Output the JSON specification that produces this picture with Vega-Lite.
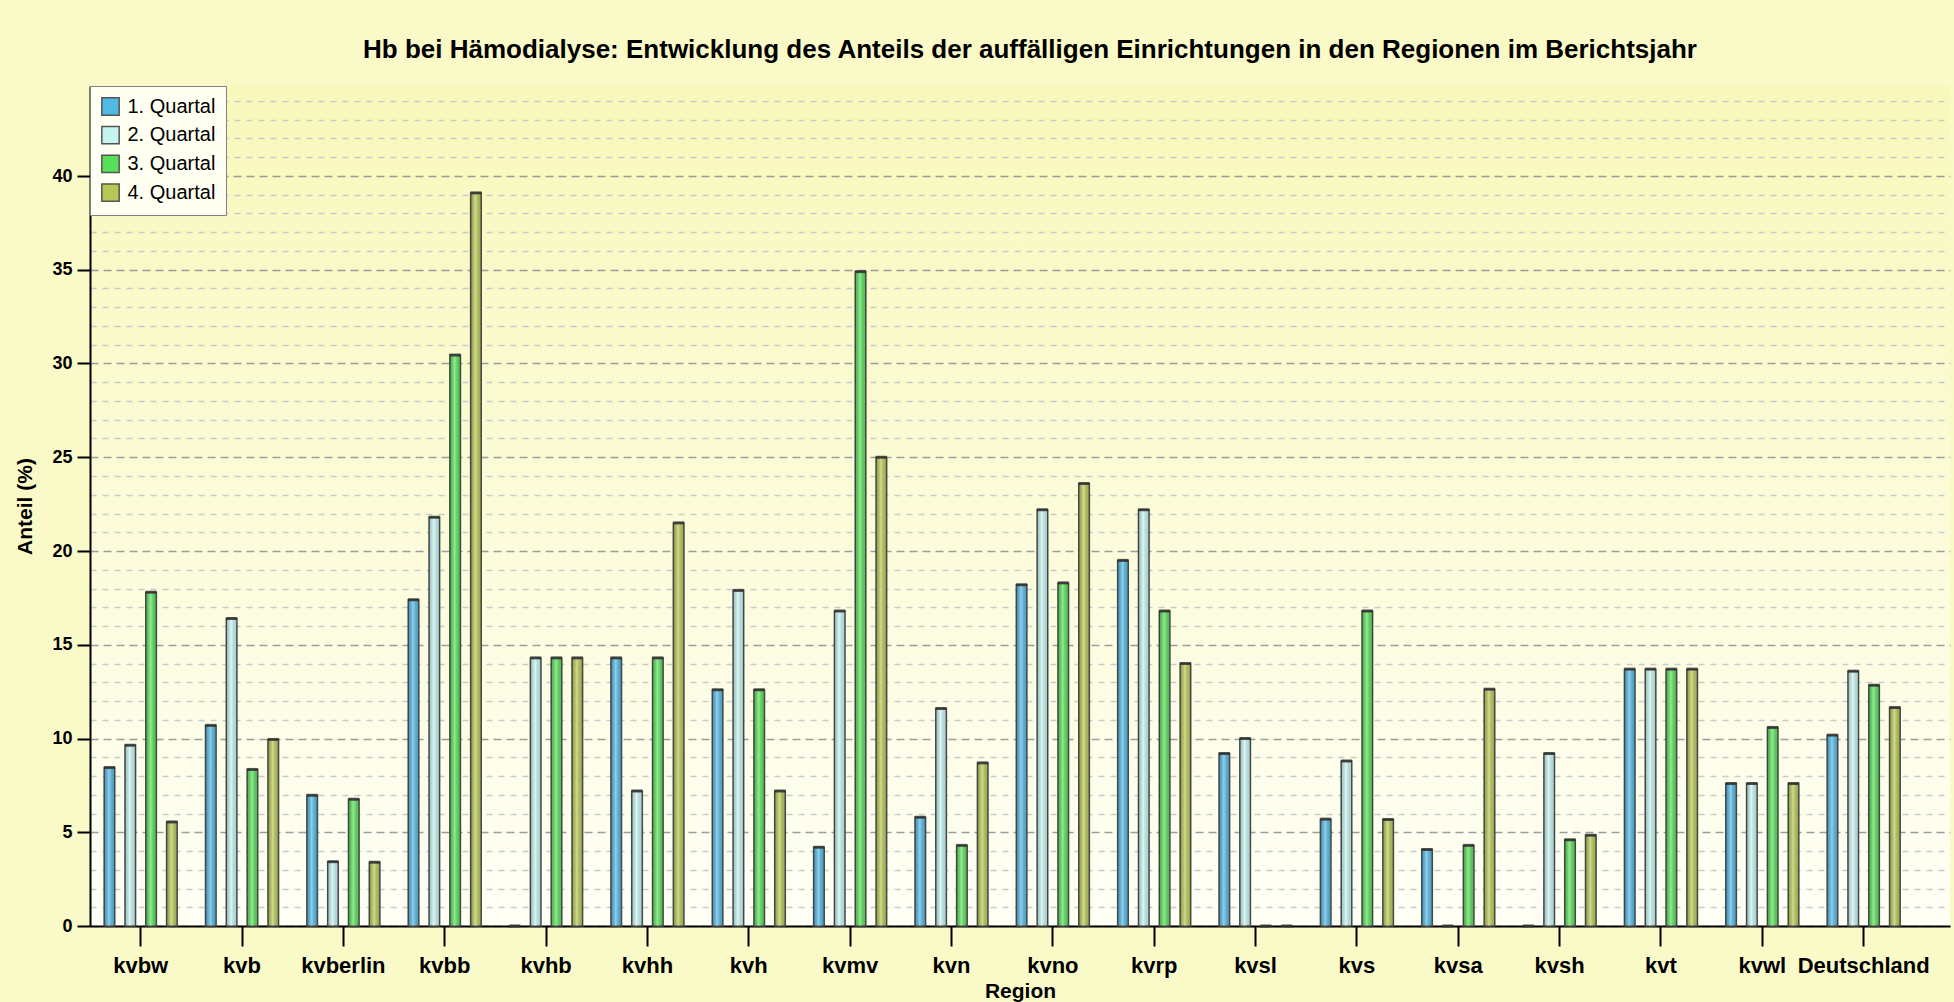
{
  "$schema": "https://vega.github.io/schema/vega-lite/v6.json",
  "width": 1860,
  "height": 840,
  "autosize": {"type": "none"},
  "padding": {"left": 90, "top": 86, "right": 4, "bottom": 76},
  "background": "#fafac8",
  "title": {
    "text": "Hb bei Hämodialyse: Entwicklung des Anteils der auffälligen Einrichtungen in den Regionen im Berichtsjahr",
    "font": "Liberation Sans",
    "fontSize": 26,
    "fontWeight": "bold",
    "color": "#000000",
    "anchor": "middle",
    "baseline": "alphabetic",
    "offset": 2,
    "dx": 10
  },
  "config": {
    "view": {
      "stroke": null,
      "fill": {
        "gradient": "linear",
        "x1": 0, "y1": 0, "x2": 0, "y2": 1,
        "stops": [
          {"offset": 0, "color": "#f8f8bb"},
          {"offset": 1, "color": "#fffff6"}
        ]
      }
    }
  },
  "data": {
    "values": [
      {"region": "kvbw", "quartal": "1. Quartal", "anteil": 8.45},
      {"region": "kvbw", "quartal": "2. Quartal", "anteil": 9.64},
      {"region": "kvbw", "quartal": "3. Quartal", "anteil": 17.8},
      {"region": "kvbw", "quartal": "4. Quartal", "anteil": 5.55},
      {"region": "kvb", "quartal": "1. Quartal", "anteil": 10.7},
      {"region": "kvb", "quartal": "2. Quartal", "anteil": 16.4},
      {"region": "kvb", "quartal": "3. Quartal", "anteil": 8.35},
      {"region": "kvb", "quartal": "4. Quartal", "anteil": 9.95},
      {"region": "kvberlin", "quartal": "1. Quartal", "anteil": 6.97},
      {"region": "kvberlin", "quartal": "2. Quartal", "anteil": 3.43},
      {"region": "kvberlin", "quartal": "3. Quartal", "anteil": 6.76},
      {"region": "kvberlin", "quartal": "4. Quartal", "anteil": 3.4},
      {"region": "kvbb", "quartal": "1. Quartal", "anteil": 17.4},
      {"region": "kvbb", "quartal": "2. Quartal", "anteil": 21.8},
      {"region": "kvbb", "quartal": "3. Quartal", "anteil": 30.45},
      {"region": "kvbb", "quartal": "4. Quartal", "anteil": 39.1},
      {"region": "kvhb", "quartal": "1. Quartal", "anteil": 0},
      {"region": "kvhb", "quartal": "2. Quartal", "anteil": 14.3},
      {"region": "kvhb", "quartal": "3. Quartal", "anteil": 14.3},
      {"region": "kvhb", "quartal": "4. Quartal", "anteil": 14.3},
      {"region": "kvhh", "quartal": "1. Quartal", "anteil": 14.3},
      {"region": "kvhh", "quartal": "2. Quartal", "anteil": 7.2},
      {"region": "kvhh", "quartal": "3. Quartal", "anteil": 14.3},
      {"region": "kvhh", "quartal": "4. Quartal", "anteil": 21.5},
      {"region": "kvh", "quartal": "1. Quartal", "anteil": 12.6},
      {"region": "kvh", "quartal": "2. Quartal", "anteil": 17.9},
      {"region": "kvh", "quartal": "3. Quartal", "anteil": 12.6},
      {"region": "kvh", "quartal": "4. Quartal", "anteil": 7.2},
      {"region": "kvmv", "quartal": "1. Quartal", "anteil": 4.2},
      {"region": "kvmv", "quartal": "2. Quartal", "anteil": 16.8},
      {"region": "kvmv", "quartal": "3. Quartal", "anteil": 34.9},
      {"region": "kvmv", "quartal": "4. Quartal", "anteil": 25.0},
      {"region": "kvn", "quartal": "1. Quartal", "anteil": 5.8},
      {"region": "kvn", "quartal": "2. Quartal", "anteil": 11.6},
      {"region": "kvn", "quartal": "3. Quartal", "anteil": 4.3},
      {"region": "kvn", "quartal": "4. Quartal", "anteil": 8.7},
      {"region": "kvno", "quartal": "1. Quartal", "anteil": 18.2},
      {"region": "kvno", "quartal": "2. Quartal", "anteil": 22.2},
      {"region": "kvno", "quartal": "3. Quartal", "anteil": 18.3},
      {"region": "kvno", "quartal": "4. Quartal", "anteil": 23.6},
      {"region": "kvrp", "quartal": "1. Quartal", "anteil": 19.5},
      {"region": "kvrp", "quartal": "2. Quartal", "anteil": 22.2},
      {"region": "kvrp", "quartal": "3. Quartal", "anteil": 16.8},
      {"region": "kvrp", "quartal": "4. Quartal", "anteil": 14.0},
      {"region": "kvsl", "quartal": "1. Quartal", "anteil": 9.2},
      {"region": "kvsl", "quartal": "2. Quartal", "anteil": 10.0},
      {"region": "kvsl", "quartal": "3. Quartal", "anteil": 0},
      {"region": "kvsl", "quartal": "4. Quartal", "anteil": 0},
      {"region": "kvs", "quartal": "1. Quartal", "anteil": 5.7},
      {"region": "kvs", "quartal": "2. Quartal", "anteil": 8.8},
      {"region": "kvs", "quartal": "3. Quartal", "anteil": 16.8},
      {"region": "kvs", "quartal": "4. Quartal", "anteil": 5.68},
      {"region": "kvsa", "quartal": "1. Quartal", "anteil": 4.08},
      {"region": "kvsa", "quartal": "2. Quartal", "anteil": 0},
      {"region": "kvsa", "quartal": "3. Quartal", "anteil": 4.3},
      {"region": "kvsa", "quartal": "4. Quartal", "anteil": 12.63},
      {"region": "kvsh", "quartal": "1. Quartal", "anteil": 0},
      {"region": "kvsh", "quartal": "2. Quartal", "anteil": 9.2},
      {"region": "kvsh", "quartal": "3. Quartal", "anteil": 4.6},
      {"region": "kvsh", "quartal": "4. Quartal", "anteil": 4.84},
      {"region": "kvt", "quartal": "1. Quartal", "anteil": 13.7},
      {"region": "kvt", "quartal": "2. Quartal", "anteil": 13.7},
      {"region": "kvt", "quartal": "3. Quartal", "anteil": 13.7},
      {"region": "kvt", "quartal": "4. Quartal", "anteil": 13.7},
      {"region": "kvwl", "quartal": "1. Quartal", "anteil": 7.6},
      {"region": "kvwl", "quartal": "2. Quartal", "anteil": 7.6},
      {"region": "kvwl", "quartal": "3. Quartal", "anteil": 10.59},
      {"region": "kvwl", "quartal": "4. Quartal", "anteil": 7.6},
      {"region": "Deutschland", "quartal": "1. Quartal", "anteil": 10.18},
      {"region": "Deutschland", "quartal": "2. Quartal", "anteil": 13.59},
      {"region": "Deutschland", "quartal": "3. Quartal", "anteil": 12.84},
      {"region": "Deutschland", "quartal": "4. Quartal", "anteil": 11.65}
    ]
  },
  "encoding": {
    "x": {
      "field": "region",
      "type": "nominal",
      "sort": null,
      "title": "Region",
      "scale": {"paddingInner": 0, "paddingOuter": 0.176, "align": 0},
      "axis": {
        "labelAngle": 0,
        "labelOverlap": false,
        "domainColor": "#000000",
        "domainWidth": 2,
        "tickColor": "#000000",
        "tickWidth": 2,
        "tickSize": 20,
        "grid": false,
        "labelFont": "Liberation Sans",
        "labelFontWeight": "bold",
        "labelFontSize": 22,
        "labelColor": "#000000",
        "labelPadding": 9,
        "titleFont": "Liberation Sans",
        "titleFontWeight": "bold",
        "titleFontSize": 21,
        "titleColor": "#000000",
        "titlePadding": 4
      }
    },
    "xOffset": {
      "field": "quartal",
      "type": "nominal",
      "scale": {"paddingInner": 0.49, "paddingOuter": 0.68}
    },
    "y": {
      "field": "anteil",
      "type": "quantitative",
      "title": "Anteil (%)",
      "scale": {"domain": [0, 44.8], "nice": false, "zero": true},
      "axis": {
        "values": [0,1,2,3,4,5,6,7,8,9,10,11,12,13,14,15,16,17,18,19,20,21,22,23,24,25,26,27,28,29,30,31,32,33,34,35,36,37,38,39,40,41,42,43,44],
        "labelExpr": "datum.value % 5 === 0 ? datum.label : ''",
        "labelOverlap": false,
        "grid": true,
        "gridColor": {"condition": {"test": "datum.value % 5 === 0", "value": "#9c9c9c"}, "value": "#cacaca"},
        "gridDash": {"condition": {"test": "datum.value % 5 === 0", "value": [8, 5]}, "value": [6, 6]},
        "gridWidth": 1.5,
        "tickOpacity": {"condition": {"test": "datum.value % 5 === 0", "value": 1}, "value": 0},
        "tickSize": 13,
        "tickColor": "#000000",
        "tickWidth": 2,
        "domainColor": "#000000",
        "domainWidth": 2,
        "labelFont": "Liberation Sans",
        "labelFontWeight": "bold",
        "labelFontSize": 18,
        "labelColor": "#000000",
        "labelPadding": 5,
        "titleFont": "Liberation Sans",
        "titleFontWeight": "bold",
        "titleFontSize": 21,
        "titleColor": "#000000",
        "titlePadding": 16
      }
    }
  },
  "layer": [
    {
      "mark": {"type": "bar", "stroke": "#4a4a4a", "strokeWidth": 1.5},
      "encoding": {
        "color": {
          "field": "quartal",
          "type": "nominal",
          "scale": {
            "domain": ["1. Quartal", "2. Quartal", "3. Quartal", "4. Quartal"],
            "range": ["#52b9e4", "#c6f4f1", "#58e058", "#b8c854"]
          },
          "legend": {
            "title": null,
            "orient": "none",
            "legendX": 0,
            "legendY": 0,
            "direction": "vertical",
            "fillColor": "#fffff2",
            "strokeColor": "#808080",
            "padding": 10.5,
            "symbolType": "square",
            "symbolSize": 300,
            "symbolStrokeColor": "#555555",
            "symbolStrokeWidth": 1.5,
            "symbolOpacity": 1,
            "labelFont": "Liberation Sans",
            "labelFontSize": 20,
            "labelColor": "#000000",
            "labelOffset": 7,
            "rowPadding": 4.7
          }
        }
      }
    },
    {
      "mark": {
        "type": "bar",
        "fill": {
          "gradient": "linear",
          "x1": 0, "y1": 0, "x2": 1, "y2": 0,
          "stops": [
            {"offset": 0, "color": "rgba(0,0,0,0.18)"},
            {"offset": 0.45, "color": "rgba(255,255,255,0.35)"},
            {"offset": 1, "color": "rgba(0,0,0,0.12)"}
          ]
        }
      },
      "encoding": {}
    },
    {
      "mark": {"type": "tick", "color": "#2e2e2e", "opacity": 0.8, "thickness": 3, "size": 11},
      "encoding": {}
    }
  ]
}
